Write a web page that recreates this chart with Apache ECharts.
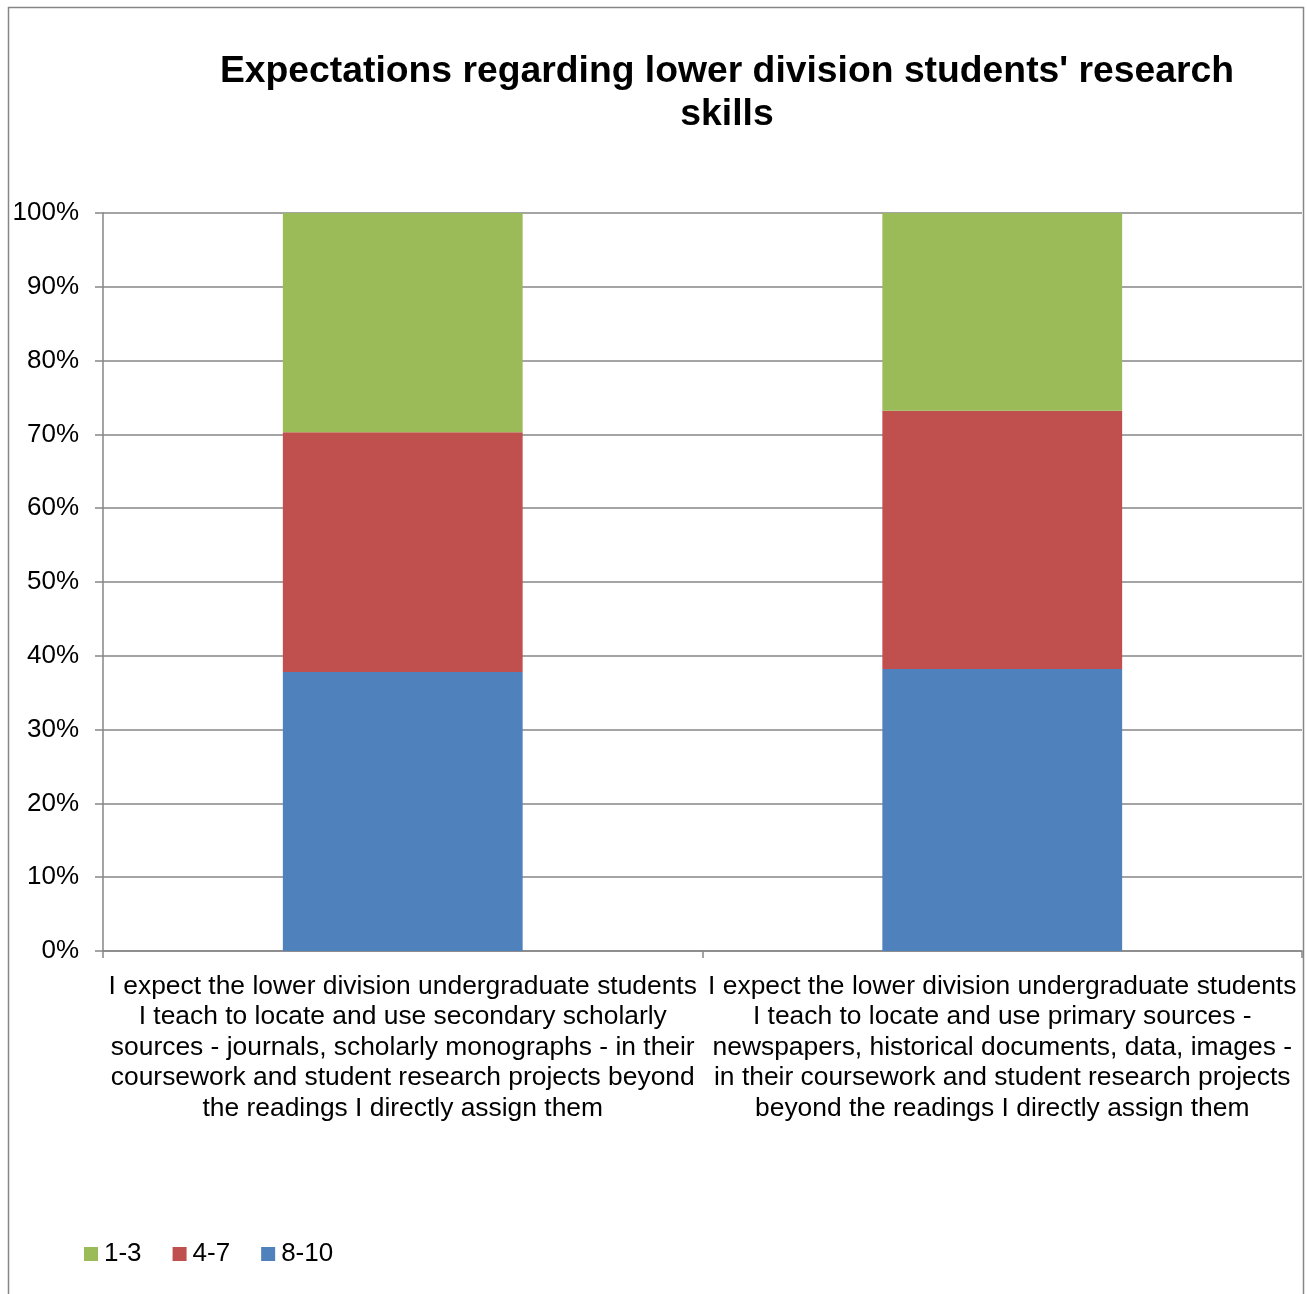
<!DOCTYPE html>
<html>
<head>
<meta charset="utf-8">
<script src="https://cdn.jsdelivr.net/npm/echarts@6/dist/echarts.min.js"></script>
<style>
html,body{margin:0;padding:0;background:#fff;}
#chart{width:1307px;height:1294px;}
</style>
</head>
<body>
<div id="chart"></div>
<script>
var titleText = "Expectations regarding lower division students' research\nskills";
var categories = [
  "I expect the lower division undergraduate students\nI teach to locate and use secondary scholarly\nsources - journals, scholarly monographs - in their\ncoursework and student research projects beyond\nthe readings I directly assign them",
  "I expect the lower division undergraduate students\nI teach to locate and use primary sources -\nnewspapers, historical documents, data, images -\nin their coursework and student research projects\nbeyond the readings I directly assign them"
];
var seriesNames = ["8-10", "4-7", "1-3"];
var values_8_10 = [37.8, 38.2];
var values_4_7 = [32.5, 35.0];
var values_1_3 = [29.7, 26.8];
var legendOrder = ["1-3", "4-7", "8-10"];
var yTicks = [0, 10, 20, 30, 40, 50, 60, 70, 80, 90, 100];

var colors = {"8-10": "#4F81BD", "4-7": "#C0504D", "1-3": "#9BBB59"};
var valueMap = {"8-10": values_8_10, "4-7": values_4_7, "1-3": values_1_3};
var font = "Liberation Sans, Arial, sans-serif";

var chart = echarts.init(document.getElementById('chart'), null, {renderer: 'canvas'});
var option = {
  animation: false,
  backgroundColor: '#ffffff',
  graphic: [{
    type: 'rect',
    shape: {x: 8.5, y: 7.5, width: 1295, height: 1300},
    style: {fill: 'none', stroke: '#868686', lineWidth: 1.5},
    silent: true
  }],
  title: {
    text: titleText,
    left: 722, top: 45,
    textAlign: 'center',
    textStyle: {fontFamily: font, fontWeight: 'bold', fontSize: 37.3, lineHeight: 43, color: '#000'}
  },
  legend: {
    data: legendOrder,
    left: 79, top: 1236,
    itemWidth: 14, itemHeight: 14, itemGap: 31,
    icon: 'rect',
    textStyle: {fontFamily: font, fontSize: 26, color: '#000', padding: [0,0,0,1]}
  },
  grid: {left: 103, right: 5, top: 213, bottom: 343, containLabel: false},
  xAxis: {
    type: 'category',
    data: categories,
    axisLine: {lineStyle: {color: '#868686', width: 1.5}},
    axisTick: {show: true, alignWithLabel: false, length: 7, lineStyle: {color: '#868686', width: 1.5}},
    axisLabel: {interval: 0, fontFamily: font, fontSize: 26.4, lineHeight: 30.6, color: '#000', margin: 20}
  },
  yAxis: {
    type: 'value', min: 0, max: 100, interval: 10,
    axisLine: {show: true, lineStyle: {color: '#868686', width: 1.5}},
    axisTick: {show: true, length: 8, lineStyle: {color: '#868686', width: 1.5}},
    splitLine: {lineStyle: {color: '#868686', width: 1.5}},
    axisLabel: {fontFamily: font, fontSize: 26, color: '#000', margin: 24,
      formatter: function (v) { return v + '%'; }}
  },
  series: seriesNames.map(function (n) {
    return {
      name: n, type: 'bar', stack: 'total', barWidth: '40%',
      itemStyle: {color: colors[n]},
      data: valueMap[n]
    };
  })
};
chart.setOption(option);
</script>
</body>
</html>
